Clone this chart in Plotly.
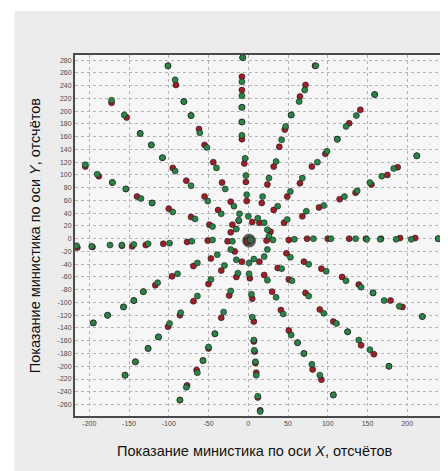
import plotly.graph_objects as go

# ---------------- data ----------------
red_x = [
    -2, -3, -5, -8, -8, -8, -8, -8, -7,
    2, 5, 7, 7, 8, 9, 10, 12, 15,
    -215, -196, -159, -146, -129, -107, -77, -51, -26,
    23, 51, 74, 100, 127, 148, 167, 191, 210, 239,
    17, 24, 32, 39, 46, 54, 65, 72, 84,
    32, 49, 65, 80, 97, 112, 127, 141, 159,
    45, 68, 89, 115, 135, 155, 175, 188, 212,
    48, 70, 92, 118, 139, 157, 179, 194, 219,
    37, 51, 72, 90, 107, 125, 142, 158, 177,
    14, 20, 30, 41, 51, 62, 70, 81, 92, 107,
    -47, -69, -96, -117, -132, -144, -157, -177, -195,
    -34, -50, -69, -86, -101, -113, -126, -142, -155,
    -8, -15, -24, -34, -42, -50, -57, -65, -77, -86,
    -49, -72, -100, -121, -140, -154, -171, -188, -205,
    -38, -55, -78, -95, -108, -122, -136, -153, -172,
    -22, -33, -44, -55, -62, -72, -81, -91, -101,
    -20, 5, 14, 28, -17, -22, -12,
]
red_y = [
    59, 89, 118, 156, 183, 206, 233, 254, 284,
    -62, -94, -130, -161, -177, -195, -210, -249, -269,
    -14, -13, -11, -12, -10, -8, -5, -3, -4,
    -3, -2, 0, 0, 0, 0, 0, 1, 1, 0,
    56, 85, 113, 144, 171, 194, 223, 241, 271,
    45, 66, 87, 113, 133, 156, 181, 202, 226,
    25, 35, 49, 62, 72, 85, 100, 112, 130,
    -23, -36, -47, -60, -72, -85, -97, -107, -122,
    -46, -64, -85, -111, -130, -146, -167, -181, -200,
    -36, -57, -83, -112, -144, -163, -180, -205, -221, -245,
    -31, -43, -59, -73, -83, -97, -107, -120, -132,
    -50, -71, -98, -120, -138, -154, -172, -193, -214,
    -36, -60, -89, -124, -149, -172, -191, -206, -230, -253,
    22, 34, 47, 56, 66, 78, 88, 98, 113,
    45, 66, 91, 111, 127, 147, 165, 190, 213,
    58, 88, 120, 147, 172, 193, 215, 241, 271,
    22, 26, 25, 11, -20, 10, 28,
]

green_x = [
    0, -2, -3, -4, -8, -8, -8, -8, -8, -7,
    1, 1, 4, 5, 7, 7.5, 9, 10, 12, 15,
    -216, -197, -174, -159, -144, -126, -99, -71, -45, -20,
    31, 58, 82, 104, 135, 149, 166, 186, 205, 239,
    12, 18, 26, 35, 42, 47, 54, 64, 71, 85,
    20, 37, 53, 68, 87, 99, 112, 123, 136, 159,
    24, 49, 73, 95, 121, 137, 153, 168, 183, 212,
    24, 53, 76, 98, 123, 142, 157, 171, 190, 219,
    20, 42, 55, 76, 95, 111, 125, 139, 153, 177,
    7, 24, 35, 44, 54, 62, 70, 80, 90, 107,
    -22, -39, -64, -89, -114, -132, -144, -157, -177, -195,
    -30, -47, -64, -85, -99, -113, -126, -142, -155,
    -13, -22, -31, -42, -50, -57, -64, -78, -86,
    -15, -45, -67, -95, -121, -135, -154, -171, -190, -205,
    -12, -34, -51, -72, -92, -108, -122, -136, -156, -172,
    -11, -18, -29, -40, -52, -61, -72, -81, -92, -101,
    26, -15,
]
green_y = [
    35, 69, 99, 126, 162, 183, 206, 224, 246, 284,
    -38, -55, -87, -123, -159, -175, -193, -214, -247, -271,
    -11, -12, -10, -10, -9, -8, -7, -4, -2, -4,
    -2, -1, 0, 0, 0, -1, -1, -1, -1, 0,
    32, 66, 95, 121, 155, 176, 194, 215, 233, 271,
    25, 51, 74, 95, 120, 137, 156, 176, 193, 226,
    14, 30, 43, 52, 66, 75, 88, 98, 110, 130,
    -17, -29, -40, -51, -66, -76, -85, -97, -106, -122,
    -28, -47, -66, -90, -117, -133, -146, -159, -174, -200,
    -32, -65, -92, -118, -151, -163, -180, -197, -214, -245,
    -17, -25, -38, -55, -69, -83, -97, -107, -120, -132,
    -42, -64, -90, -116, -133, -154, -172, -193, -214,
    -54, -82, -115, -149, -170, -191, -210, -233, -253,
    15, 19, 31, 42, 56, 63, 78, 88, 101, 116,
    29, 39, 59, 83, 106, 127, 147, 165, 194, 217,
    39, 51, 78, 111, 143, 166, 193, 215, 249, 271,
    4, -33,
]

center_x = [1, -1, 3]
center_y = [-3, -4, -2]

x_tick_vals = [-200, -150, -100, -50, 0, 50, 100, 150, 200]
x_tick_text = ["-200", "-150", "-100", "-50", "0", "50", "100", "150", "200"]
y_tick_vals = list(range(-260, 281, 20))
y_tick_text = [str(v) for v in y_tick_vals]

x_title = "Показание министика по оси <i>X</i>, отсчётов"
y_title = "Показание министика по оси <i>Y</i>, отсчётов"

# ---------------- figure ----------------
# the page body has an 8px margin, so the figure is drawn 8px smaller / shifted
OFF = 8
W, H = 448 - OFF, 471 - OFF
L, R, T, B = 75 - OFF, 3, 55 - OFF, 55
pw, ph = W - L - R, H - T - B

def px_to_paper_x(p):  # p in page pixels
    return (p - OFF - L) / pw

def py_to_paper_y(p):
    return (H - B - (p - OFF)) / ph

edge = dict(color="rgba(20,20,20,0.7)", width=0.8)

fig = go.Figure()
fig.add_trace(go.Scatter(
    x=red_x, y=red_y, mode="markers",
    marker=dict(size=6, color="#9e1f29", line=edge),
    showlegend=False, hoverinfo="skip"))
fig.add_trace(go.Scatter(
    x=green_x, y=green_y, mode="markers",
    marker=dict(size=6, color="#2b8447", line=edge),
    showlegend=False, hoverinfo="skip"))
fig.add_trace(go.Scatter(
    x=center_x, y=center_y, mode="markers",
    marker=dict(size=[13, 7, 7], color=["#151515", "#8a1c24", "#2e7d46"],
                line=dict(color="rgba(10,10,10,0.7)", width=1)),
    showlegend=False, hoverinfo="skip"))

# outer light-gray panel and plot-area background
fig.add_shape(type="rect", xref="paper", yref="paper",
              x0=px_to_paper_x(14), x1=px_to_paper_x(449),
              y0=py_to_paper_y(472), y1=py_to_paper_y(11),
              fillcolor="#ececec", line=dict(width=0), layer="below")
fig.add_shape(type="rect", xref="paper", yref="paper",
              x0=0, x1=1, y0=0, y1=1,
              fillcolor="#f6f6f6", line=dict(width=0), layer="below")

fig.add_annotation(text=x_title, xref="paper", yref="paper",
                   x=px_to_paper_x(255), y=py_to_paper_y(451),
                   xanchor="center", yanchor="middle", showarrow=False,
                   font=dict(family="Liberation Sans, Arial, sans-serif", size=14.5, color="#111"))
fig.add_annotation(text=y_title, xref="paper", yref="paper",
                   x=px_to_paper_x(35), y=py_to_paper_y(236),
                   xanchor="center", yanchor="middle", showarrow=False, textangle=-90,
                   font=dict(family="Liberation Sans, Arial, sans-serif", size=14.5, color="#111"))

axis_common = dict(
    showgrid=True, gridcolor="#b4b4b4", griddash="dot", gridwidth=1,
    zeroline=False, showline=True, linecolor="#4a4a4a", linewidth=2, mirror=True,
    ticks="", tickfont=dict(family="Liberation Sans, Arial, sans-serif", size=7, color="#4a4a4a"),
)
fig.update_xaxes(range=[-218, 245], tickmode="array",
                 tickvals=x_tick_vals, ticktext=x_tick_text, **axis_common)
fig.update_yaxes(range=[-278, 288], tickmode="array",
                 tickvals=y_tick_vals, ticktext=y_tick_text, **axis_common)

fig.update_layout(
    width=W, height=H,
    margin=dict(l=L, r=R, t=T, b=B, pad=0),
    paper_bgcolor="white", plot_bgcolor="rgba(0,0,0,0)",
    showlegend=False,
)

fig.write_html("out.html")
